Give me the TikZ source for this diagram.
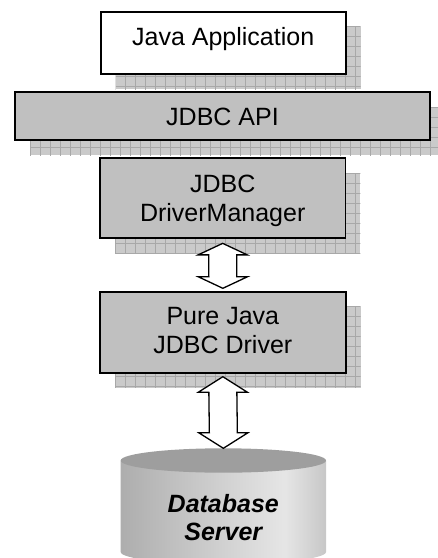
\documentclass[tikz,border=0pt]{standalone}
\usepackage{fontspec}
\setmainfont{Liberation Sans}
\usetikzlibrary{calc,backgrounds}
\definecolor{boxgray}{RGB}{192,192,192}
\definecolor{shadowbase}{RGB}{202,202,202}
\definecolor{shadowline}{RGB}{168,168,168}
\definecolor{dbtopcol}{RGB}{158,158,158}
\pgfdeclarehorizontalshading{cylbody}{100bp}{color(0bp)=(black!32); color(25bp)=(black!32); color(50bp)=(black!18); color(65bp)=(black!10); color(75bp)=(black!22); color(100bp)=(black!22)}
\newcommand{\shadowof}[1]{%
  \begin{scope}
    \path ($(#1.north west)+(15,15)$) coordinate (sA) ($(#1.south east)+(15,15)$) coordinate (sB);
    \fill[shadowbase] (sA) rectangle (sB);
    \clip (sA) rectangle (sB);
    \foreach \i in {0,...,45} \draw[shadowgrid] ($(sA)+(10*\i,0)$) -- ($(sA)+(10*\i,100)$);
    \foreach \j in {0,...,10} \draw[shadowgrid] ($(sA)+(0,10*\j)$) -- ($(sA)+(450,10*\j)$);
  \end{scope}}
\newcommand{\dblarrow}[3]{%
  \draw[dblarr] (#1) -- ($(#1)+(24.5,#3)$) -- ($(#1)+(14,#3)$) -- ($(#2)+(14,-#3)$) -- ($(#2)+(24.5,-#3)$) -- (#2)
    -- ($(#2)+(-24.5,-#3)$) -- ($(#2)+(-14,-#3)$) -- ($(#1)+(-14,#3)$) -- ($(#1)+(-24.5,#3)$) -- cycle;}
\begin{document}
\begin{tikzpicture}[x=1pt,y=-1pt,font=\fontsize{25}{29}\selectfont,
  box/.style={draw=black, line width=1.8pt, fill=boxgray, inner sep=0pt, outer sep=0pt},
  lbl/.style={align=center, inner sep=0pt, text=black},
  dblarr/.style={draw=black, line width=1.3pt, fill=white, line join=miter},
  shadowgrid/.style={draw=shadowline, line width=0.7pt}]
\useasboundingbox (0,0) rectangle (438,558);

% boxes
\node[box, fill=white, minimum width=245pt, minimum height=62.3pt] (ja) at (223.2,42.85) {};
\node[box, minimum width=415pt, minimum height=48pt] (api) at (222.5,116) {};
\node[box, minimum width=245.5pt, minimum height=80.3pt] (dm) at (222.7,198.2) {};
\node[box, minimum width=245.7pt, minimum height=81pt] (pj) at (222.85,332.2) {};

% shadows
\begin{scope}[on background layer]
  \shadowof{ja}
  \shadowof{api}
  \shadowof{dm}
  \shadowof{pj}
\end{scope}

% labels
\node[lbl, anchor=base] (tja) at ($(ja.center)+(0,2.2)$) {Java Application};
\node[lbl, anchor=base] (tapi) at ($(api.center)+(0,9)$) {JDBC API};
\node[lbl] (tdm) at ($(dm.center)+(0,2.8)$) {JDBC\\DriverManager};
\node[lbl] (tpj) at ($(pj.center)+(0,-1.5)$) {Pure Java\\JDBC Driver};

% database cylinder
\coordinate (dbtop) at (223.35,448.3);
\path[shading=cylbody] (120.7,460.5) -- (120.7,552) arc[start angle=180, end angle=0, x radius=102.65, y radius=12] -- (326,460.5) -- cycle;
\fill[dbtopcol] (223.35,460.5) ellipse[x radius=102.65, y radius=12.2];
\node[lbl, font=\bfseries\itshape\fontsize{25}{28}\selectfont] (db) at (223.3,517.5) {Database\\Server};

% double arrows
\coordinate (a1t) at ($(dm.south)+(0,5)$);
\coordinate (a1b) at ($(pj.north)+(0,-3.4)$);
\coordinate (a2t) at ($(pj.south)+(0,4)$);
\coordinate (a2b) at (dbtop);
\dblarrow{a1t}{a1b}{11.5}
\dblarrow{a2t}{a2b}{15.5}
\end{tikzpicture}
\end{document}
